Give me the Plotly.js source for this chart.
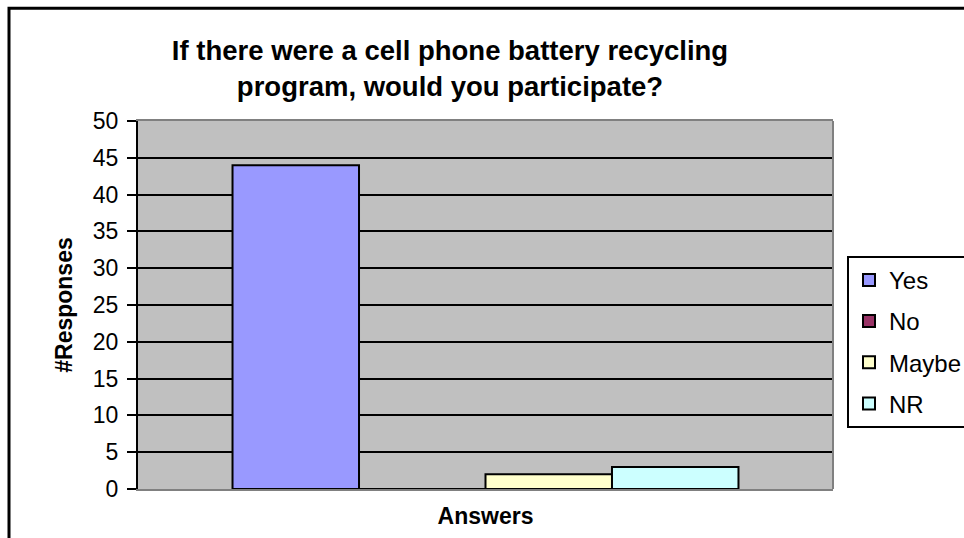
<!DOCTYPE html>
<html>
<head>
<meta charset="utf-8">
<script src="https://cdn.plot.ly/plotly-3.0.1.min.js"></script>
<style>
  html, body { margin: 0; padding: 0; background: #ffffff; }
  #chart { width: 964px; height: 538px; }
</style>
</head>
<body>
<div id="chart"></div>
<script>
// ---- data ----
const categories = ["Yes", "No", "Maybe", "NR"];
const responses = [44, 0, 2, 3];
const colors = ["#9999FF", "#993366", "#FFFFCC", "#CCFFFF"];
const yTicks = [0, 5, 10, 15, 20, 25, 30, 35, 40, 45, 50];
const groupLabel = [""];

// ---- plot geometry (pixels) ----
const W = 964, H = 538;
const L = 138, R = 833, T = 121, B = 489.5;
const px2x = p => (p - L) / (R - L);
const py2y = p => (B - p) / (B - T);

const traces = categories.map((c, i) => ({
  type: "bar",
  name: c,
  x: groupLabel,
  y: [responses[i]],
  legendgroup: c,
  marker: { color: colors[i], line: { color: "#000000", width: 2 } },
  hoverinfo: "name+y"
}));

const layout = {
  width: W, height: H,
  margin: { l: L, r: W - R, t: T, b: H - B, pad: 0, autoexpand: false },
  paper_bgcolor: "#ffffff",
  plot_bgcolor: "#C0C0C0",
  font: { family: "Liberation Sans, Arial, sans-serif", color: "#000000", size: 23 },
  title: {
    text: "<b>If there were a cell phone battery recycling<br>program, would you participate?</b>",
    font: { size: 27.5, family: "Liberation Sans, Arial, sans-serif", color: "#000000" },
    x: 450 / W, xref: "container", xanchor: "center",
    y: 1 - 60 / H, yref: "container", yanchor: "middle"
  },
  barmode: "group",
  bargap: 0.272,
  bargroupgap: 0,
  showlegend: true,
  legend: {
    x: px2x(847), xanchor: "left",
    y: py2y(256), yanchor: "top",
    bgcolor: "#ffffff",
    bordercolor: "#000000", borderwidth: 2,
    font: { size: 24 },
    tracegroupgap: 7,
    traceorder: "grouped",
    itemwidth: 30,
    itemclick: false
  },
  xaxis: {
    showticklabels: false,
    ticks: "",
    showgrid: false,
    zeroline: false,
    showline: true, linecolor: "#808080", linewidth: 2, mirror: true,
    title: { text: "<b>Answers</b>", font: { size: 23 }, standoff: 18 },
    fixedrange: true
  },
  yaxis: {
    range: [0, 50],
    tickvals: yTicks,
    ticktext: yTicks.map(String),
    ticks: "outside", ticklen: 9, tickwidth: 2, tickcolor: "#000000",
    ticklabelstandoff: 4,
    tickfont: { size: 23 },
    showgrid: true, gridcolor: "#000000", gridwidth: 2,
    zeroline: false,
    showline: true, linecolor: "#000000", linewidth: 2,
    title: { text: "<b>#Responses</b>", font: { size: 23 }, standoff: 14 },
    fixedrange: true
  },
  shapes: [
    // right border of plot area (grey)
    { type: "line", xref: "paper", yref: "paper", x0: 1, x1: 1, y0: 0, y1: 1,
      line: { color: "#808080", width: 2 } },
    // outer chart frame (top and left edges)
    { type: "path", xref: "paper", yref: "paper",
      path: `M ${px2x(9)},${py2y(545)} L ${px2x(9)},${py2y(8)} L ${px2x(970)},${py2y(8)}`,
      line: { color: "#000000", width: 3 } }
  ]
};

Plotly.newPlot("chart", traces, layout, { displayModeBar: false });
</script>
</body>
</html>
